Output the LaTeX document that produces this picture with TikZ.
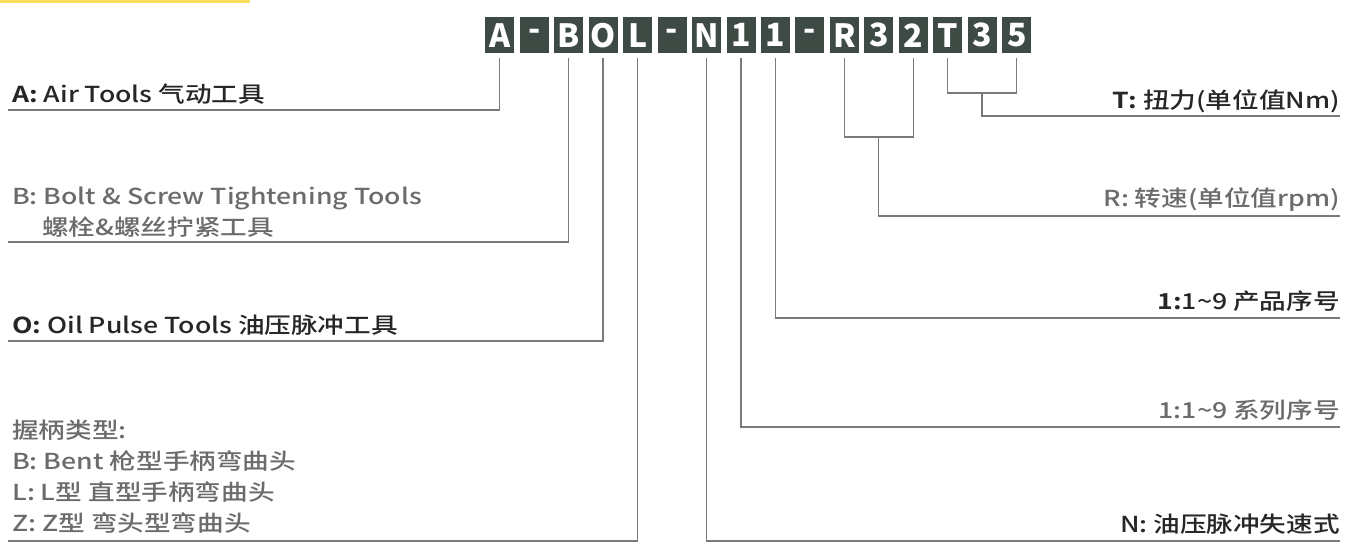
\documentclass[tikz,border=0pt]{standalone}
\usepackage{fontspec}
\setmainfont{Noto Sans CJK SC}[FakeStretch=1.21, UprightFont={* Medium}, BoldFont={* Bold}]
\newfontfamily\boxfont{Noto Sans CJK SC}
\definecolor{boxc}{HTML}{3E4B45}
\definecolor{darkt}{HTML}{262626}
\definecolor{greyt}{HTML}{6B6B6B}
\definecolor{linec}{HTML}{7A7A7A}
\definecolor{yel}{HTML}{F8DC5A}
\begin{document}
\begin{tikzpicture}[x=1pt,y=-1pt,
  codebox/.style={fill=boxc, minimum width=29pt, minimum height=36pt, inner sep=0pt,
    text=white, font=\boxfont\bfseries\fontsize{32}{32}\selectfont, anchor=north west},
  lbl/.style={inner sep=0pt, font=\fontsize{22}{22}\selectfont},
  darktxt/.style={lbl, text=darkt},
  greytxt/.style={lbl, text=greyt},
  conn/.style={draw=linec, line width=1.3pt},
]
\useasboundingbox (0,0) rectangle (1356,544);
\fill[yel] (0,0) rectangle (250,3);
\foreach \t [count=\i from 0] in {A,-,B,O,L,-,N,1,1,-,R,3,2,T,3,5}
  {\node[codebox] (b\i) at ({485+34.47*\i},17) {\t};}

% left labels
\node[darktxt, anchor=base west] (la) at (12,102) {\textbf{A:} Air Tools 气动工具};
\node[greytxt, anchor=base west] (lb1) at (12,204) {B: Bolt \& Screw Tightening Tools};
\node[greytxt, anchor=base west] (lb2) at (42,235) {螺栓\&螺丝拧紧工具};
\node[darktxt, anchor=base west] (lo) at (12,333) {\textbf{O:} Oil Pulse Tools 油压脉冲工具};
\node[greytxt, anchor=base west] (lg1) at (12,438) {握柄类型:};
\node[greytxt, anchor=base west] (lg2) at (12,469) {B: Bent 枪型手柄弯曲头};
\node[greytxt, anchor=base west] (lg3) at (12,500) {L: L型 直型手柄弯曲头};
\node[greytxt, anchor=base west] (lg4) at (12,531) {Z: Z型 弯头型弯曲头};

% right labels
\node[darktxt, anchor=base east] (lt) at (1340,108) {\textbf{T:} 扭力(单位值Nm)};
\node[greytxt, anchor=base east] (lr) at (1340,206) {R: 转速(单位值rpm)};
\node[darktxt, anchor=base east] (lp) at (1340,309) {\textbf{1:}1\textasciitilde9 产品序号};
\node[greytxt, anchor=base east] (ls) at (1340,418) {1:1\textasciitilde9 系列序号};
\node[darktxt, anchor=base east] (ln) at (1340,532) {N: 油压脉冲失速式};

% line ends
\coordinate (aL) at (8,110);
\coordinate (bL) at (8,242);
\coordinate (oL) at (8,341);
\coordinate (gL) at (8,541);
\coordinate (nR) at (1340,541);
\coordinate (sR) at (1340,427);
\coordinate (pR) at (1340,318);
\coordinate (rj) at (878.7,137);
\coordinate (rR) at (1340,216);
\coordinate (tj) at (982.1,93);
\coordinate (tR) at (1340,116);

\draw[conn] ([yshift=-5pt]b0.south) |- (aL);
\draw[conn] ([yshift=-5pt]b2.south) |- (bL);
\draw[conn] ([yshift=-5pt]b3.south) |- (oL);
\draw[conn] ([yshift=-5pt]b4.south) |- (gL);
\draw[conn] ([yshift=-5pt]b6.south) |- (nR);
\draw[conn] ([yshift=-5pt]b7.south) |- (sR);
\draw[conn] ([yshift=-5pt]b8.south) |- (pR);
\draw[conn] ([yshift=-5pt]b10.south) |- (rj) -| ([yshift=-5pt]b12.south);
\draw[conn] (rj) |- (rR);
\draw[conn] ([yshift=-5pt]b13.south) |- (tj) -| ([yshift=-5pt]b15.south);
\draw[conn] (tj) |- (tR);
\end{tikzpicture}
\end{document}
